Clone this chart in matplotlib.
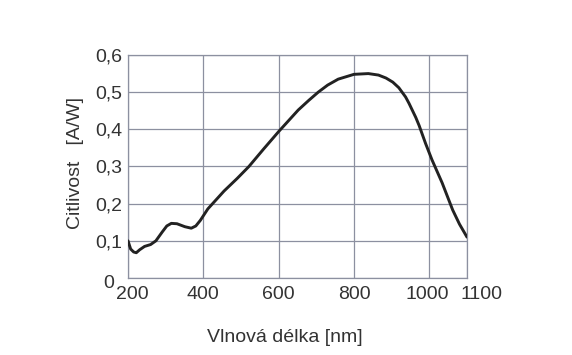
import matplotlib
matplotlib.use("Agg")
import matplotlib.pyplot as plt
from matplotlib.transforms import ScaledTranslation

# hodnoty
vlnova_delka = [200, 207, 215, 222, 231, 244, 260, 274, 291, 303, 315, 330,
                351, 368, 380, 392, 412, 438, 455, 490, 521, 560, 600, 652,
                680, 705, 730, 758, 800, 838, 865, 885, 903, 919, 937, 946,
                964, 973, 990, 1007, 1034, 1062, 1080, 1100]
citlivost = [0.100, 0.078, 0.070, 0.068, 0.076, 0.085, 0.090, 0.100, 0.124,
             0.140, 0.147, 0.146, 0.138, 0.134, 0.140, 0.155, 0.186, 0.215,
             0.234, 0.268, 0.300, 0.347, 0.394, 0.452, 0.478, 0.500, 0.519,
             0.535, 0.548, 0.550, 0.546, 0.538, 0.527, 0.512, 0.487, 0.470,
             0.432, 0.410, 0.362, 0.318, 0.256, 0.183, 0.145, 0.110]

x_ticks = [200, 400, 600, 800, 1000, 1100]
y_ticks = [0, 0.1, 0.2, 0.3, 0.4, 0.5, 0.6]
y_labels = ["0", "0,1", "0,2", "0,3", "0,4", "0,5", "0,6"]

plt.rcParams['font.family'] = ['Liberation Sans', 'DejaVu Sans']

fig = plt.figure(figsize=(5.72, 3.55), dpi=100)
ax = fig.add_axes([128 / 572, 1 - 278 / 355, 339 / 572, 223 / 355])

grid_col = "#8c90a0"
ax.plot(vlnova_delka, citlivost, color="#222222", lw=2.1,
        solid_joinstyle="round", solid_capstyle="round", zorder=3)

ax.set_xlim(200, 1100)
ax.set_ylim(0, 0.6)
ax.set_xticks(x_ticks)
ax.set_xticklabels([str(t) for t in x_ticks])
ax.set_yticks(y_ticks)
ax.set_yticklabels(y_labels)
ax.grid(True, color=grid_col, lw=0.9)
ax.tick_params(length=0, labelsize=14, colors="#333333")
ax.tick_params(axis="x", pad=6)
ax.tick_params(axis="y", pad=4)
for s in ax.spines.values():
    s.set_color(grid_col)
    s.set_linewidth(0.9)

# posunutí krajních popisků jako v originále
xl = ax.get_xticklabels()
xl[0].set_transform(xl[0].get_transform() + ScaledTranslation(4 / 100, 0, fig.dpi_scale_trans))
xl[-1].set_transform(xl[-1].get_transform() + ScaledTranslation(14 / 100, 0, fig.dpi_scale_trans))
xl[-2].set_transform(xl[-2].get_transform() + ScaledTranslation(-2 / 100, 0, fig.dpi_scale_trans))
yl = ax.get_yticklabels()
yl[0].set_transform(yl[0].get_transform() + ScaledTranslation(-8 / 100, -3 / 100, fig.dpi_scale_trans))

fig.text(285 / 572, 1 - 338 / 355, "Vlnová délka [nm]", ha="center", va="center",
         fontsize=14, color="#333333")
fig.text(75 / 572, 1 - 163 / 355, "Citlivost   [A/W]", ha="center", va="center",
         rotation=90, fontsize=14, color="#333333")

fig.savefig("out.png", dpi=100)
